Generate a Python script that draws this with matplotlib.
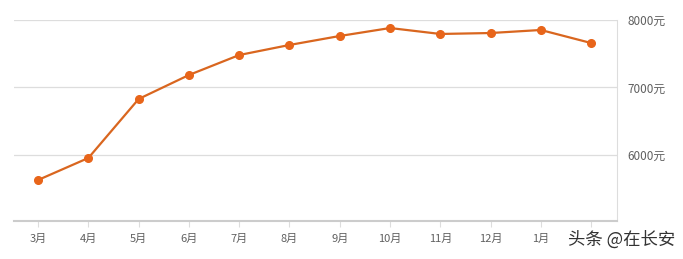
import matplotlib.pyplot as plt
import numpy as np

plt.rcParams['font.family'] = ['Noto Sans CJK SC', 'DejaVu Sans']

months = ['3月', '4月', '5月', '6月', '7月', '8月', '9月', '10月', '11月', '12月', '1月', '']
price = [5630, 5956, 6830, 7185, 7481, 7630, 7763, 7881, 7793, 7807, 7852, 7659]
yticks = [6000, 7000, 8000]

fig = plt.figure(figsize=(6.83, 2.59), dpi=100)
ax = fig.add_axes([0.0205, 0.1467, 0.8825, 0.7761])

x = np.arange(len(months))
ax.plot(x, price, color='#d9661f', lw=1.6, marker='o', ms=5.5,
        markerfacecolor='#e8651a', markeredgecolor='#e8651a', zorder=3)

ax.set_xlim(-0.48, 11.51)
ax.set_ylim(5022, 8000)
ax.set_xticks(x)
ax.set_xticklabels(months, fontsize=8, color='#606060')
ax.set_yticks(yticks)
ax.set_yticklabels([f'{v}元' for v in yticks], fontsize=8.5, color='#606060')
ax.yaxis.tick_right()
ax.tick_params(axis='y', length=0, pad=8)
ax.tick_params(axis='x', length=4, color='#dddddd', pad=5)
ax.grid(axis='y', color='#dddddd', lw=0.9)
ax.set_axisbelow(True)

for s in ['top', 'left']:
    ax.spines[s].set_visible(False)
ax.spines['bottom'].set_color('#cccccc')
ax.spines['bottom'].set_linewidth(1.5)
ax.spines['right'].set_color('#dddddd')

fig.text(0.988, 0.075, '头条 @在长安', ha='right', va='center', fontsize=12.5, color='#333333')

fig.savefig('out.png', dpi=100)
